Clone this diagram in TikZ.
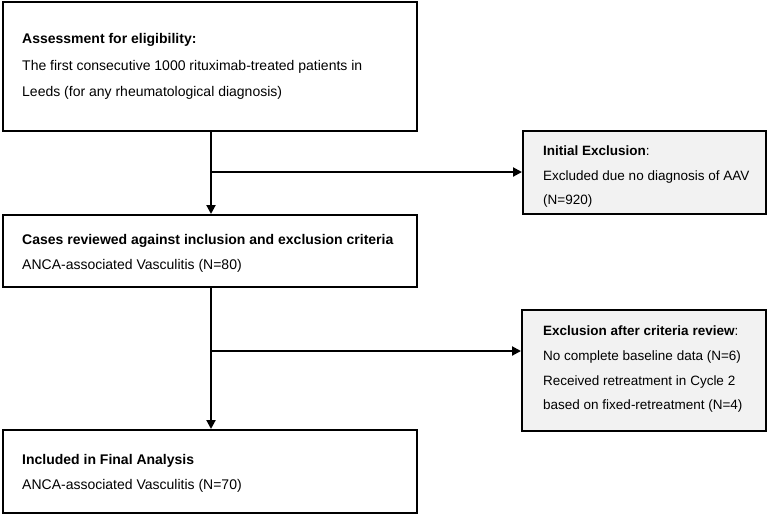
\documentclass[tikz,border=0pt]{standalone}
\usepackage{fontspec}
\setmainfont{Liberation Sans}
\usetikzlibrary{arrows.meta}
\definecolor{exfill}{HTML}{F2F2F2}
\tikzset{
  box/.style={draw=black, line width=2pt, rectangle, inner sep=0pt},
  exbox/.style={box, fill=exfill},
  txt/.style={anchor=base west, inner sep=0pt, font=\fontsize{14}{16}\selectfont},
  extxt/.style={txt, font=\fontsize{13.5}{16}\selectfont},
  conn/.style={draw=black, line width=2pt},
  arr/.style={conn, -{Triangle[length=9pt,width=9pt]}},
}
\begin{document}
\begin{tikzpicture}[x=1pt,y=-1pt]
\useasboundingbox (0,0) rectangle (767,515);
% boxes
\node[box, minimum width=414pt, minimum height=129pt] (b1) at (210,66.5) {};
\node[box, minimum width=414pt, minimum height=72pt] (b2) at (210,251) {};
\node[box, minimum width=414pt, minimum height=83pt] (b3) at (210,471.5) {};
\node[exbox, minimum width=243pt, minimum height=83pt] (e1) at (644.5,172.5) {};
\node[exbox, minimum width=244pt, minimum height=121pt] (e2) at (644,370.5) {};
% texts
\node[txt] (t1a) at (22,43) {\textbf{Assessment for eligibility:}};
\node[txt] (t1b) at (22,70) {The first consecutive 1000 rituximab-treated patients in};
\node[txt] (t1c) at (22,96) {Leeds (for any rheumatological diagnosis)};
\node[txt] (t2a) at (22,244) {\textbf{Cases reviewed against inclusion and exclusion criteria}};
\node[txt] (t2b) at (22,269) {ANCA-associated Vasculitis (N=80)};
\node[txt] (t3a) at (22,464) {\textbf{Included in Final Analysis}};
\node[txt] (t3b) at (22,489) {ANCA-associated Vasculitis (N=70)};
\node[extxt] (e1a) at (543,155.5) {\textbf{Initial Exclusion}:};
\node[extxt] (e1b) at (543,180) {Excluded due no diagnosis of AAV};
\node[extxt] (e1c) at (543,204.5) {(N=920)};
\node[extxt] (e2a) at (543,335.5) {\textbf{Exclusion after criteria review}:};
\node[extxt] (e2b) at (543,360) {No complete baseline data (N=6)};
\node[extxt] (e2c) at (543,385) {Received retreatment in Cycle 2};
\node[extxt] (e2d) at (543,409) {based on fixed-retreatment (N=4)};
% connectors
\coordinate (j1) at (211,172);
\coordinate (j2) at (211,351);
\draw[arr] (b1.south -| j1) -- (b2.north -| j1);
\draw[arr] (j1) -- (e1.west |- j1);
\draw[arr] (b2.south -| j2) -- (b3.north -| j2);
\draw[arr] (j2) -- (e2.west |- j2);
\end{tikzpicture}
\end{document}
